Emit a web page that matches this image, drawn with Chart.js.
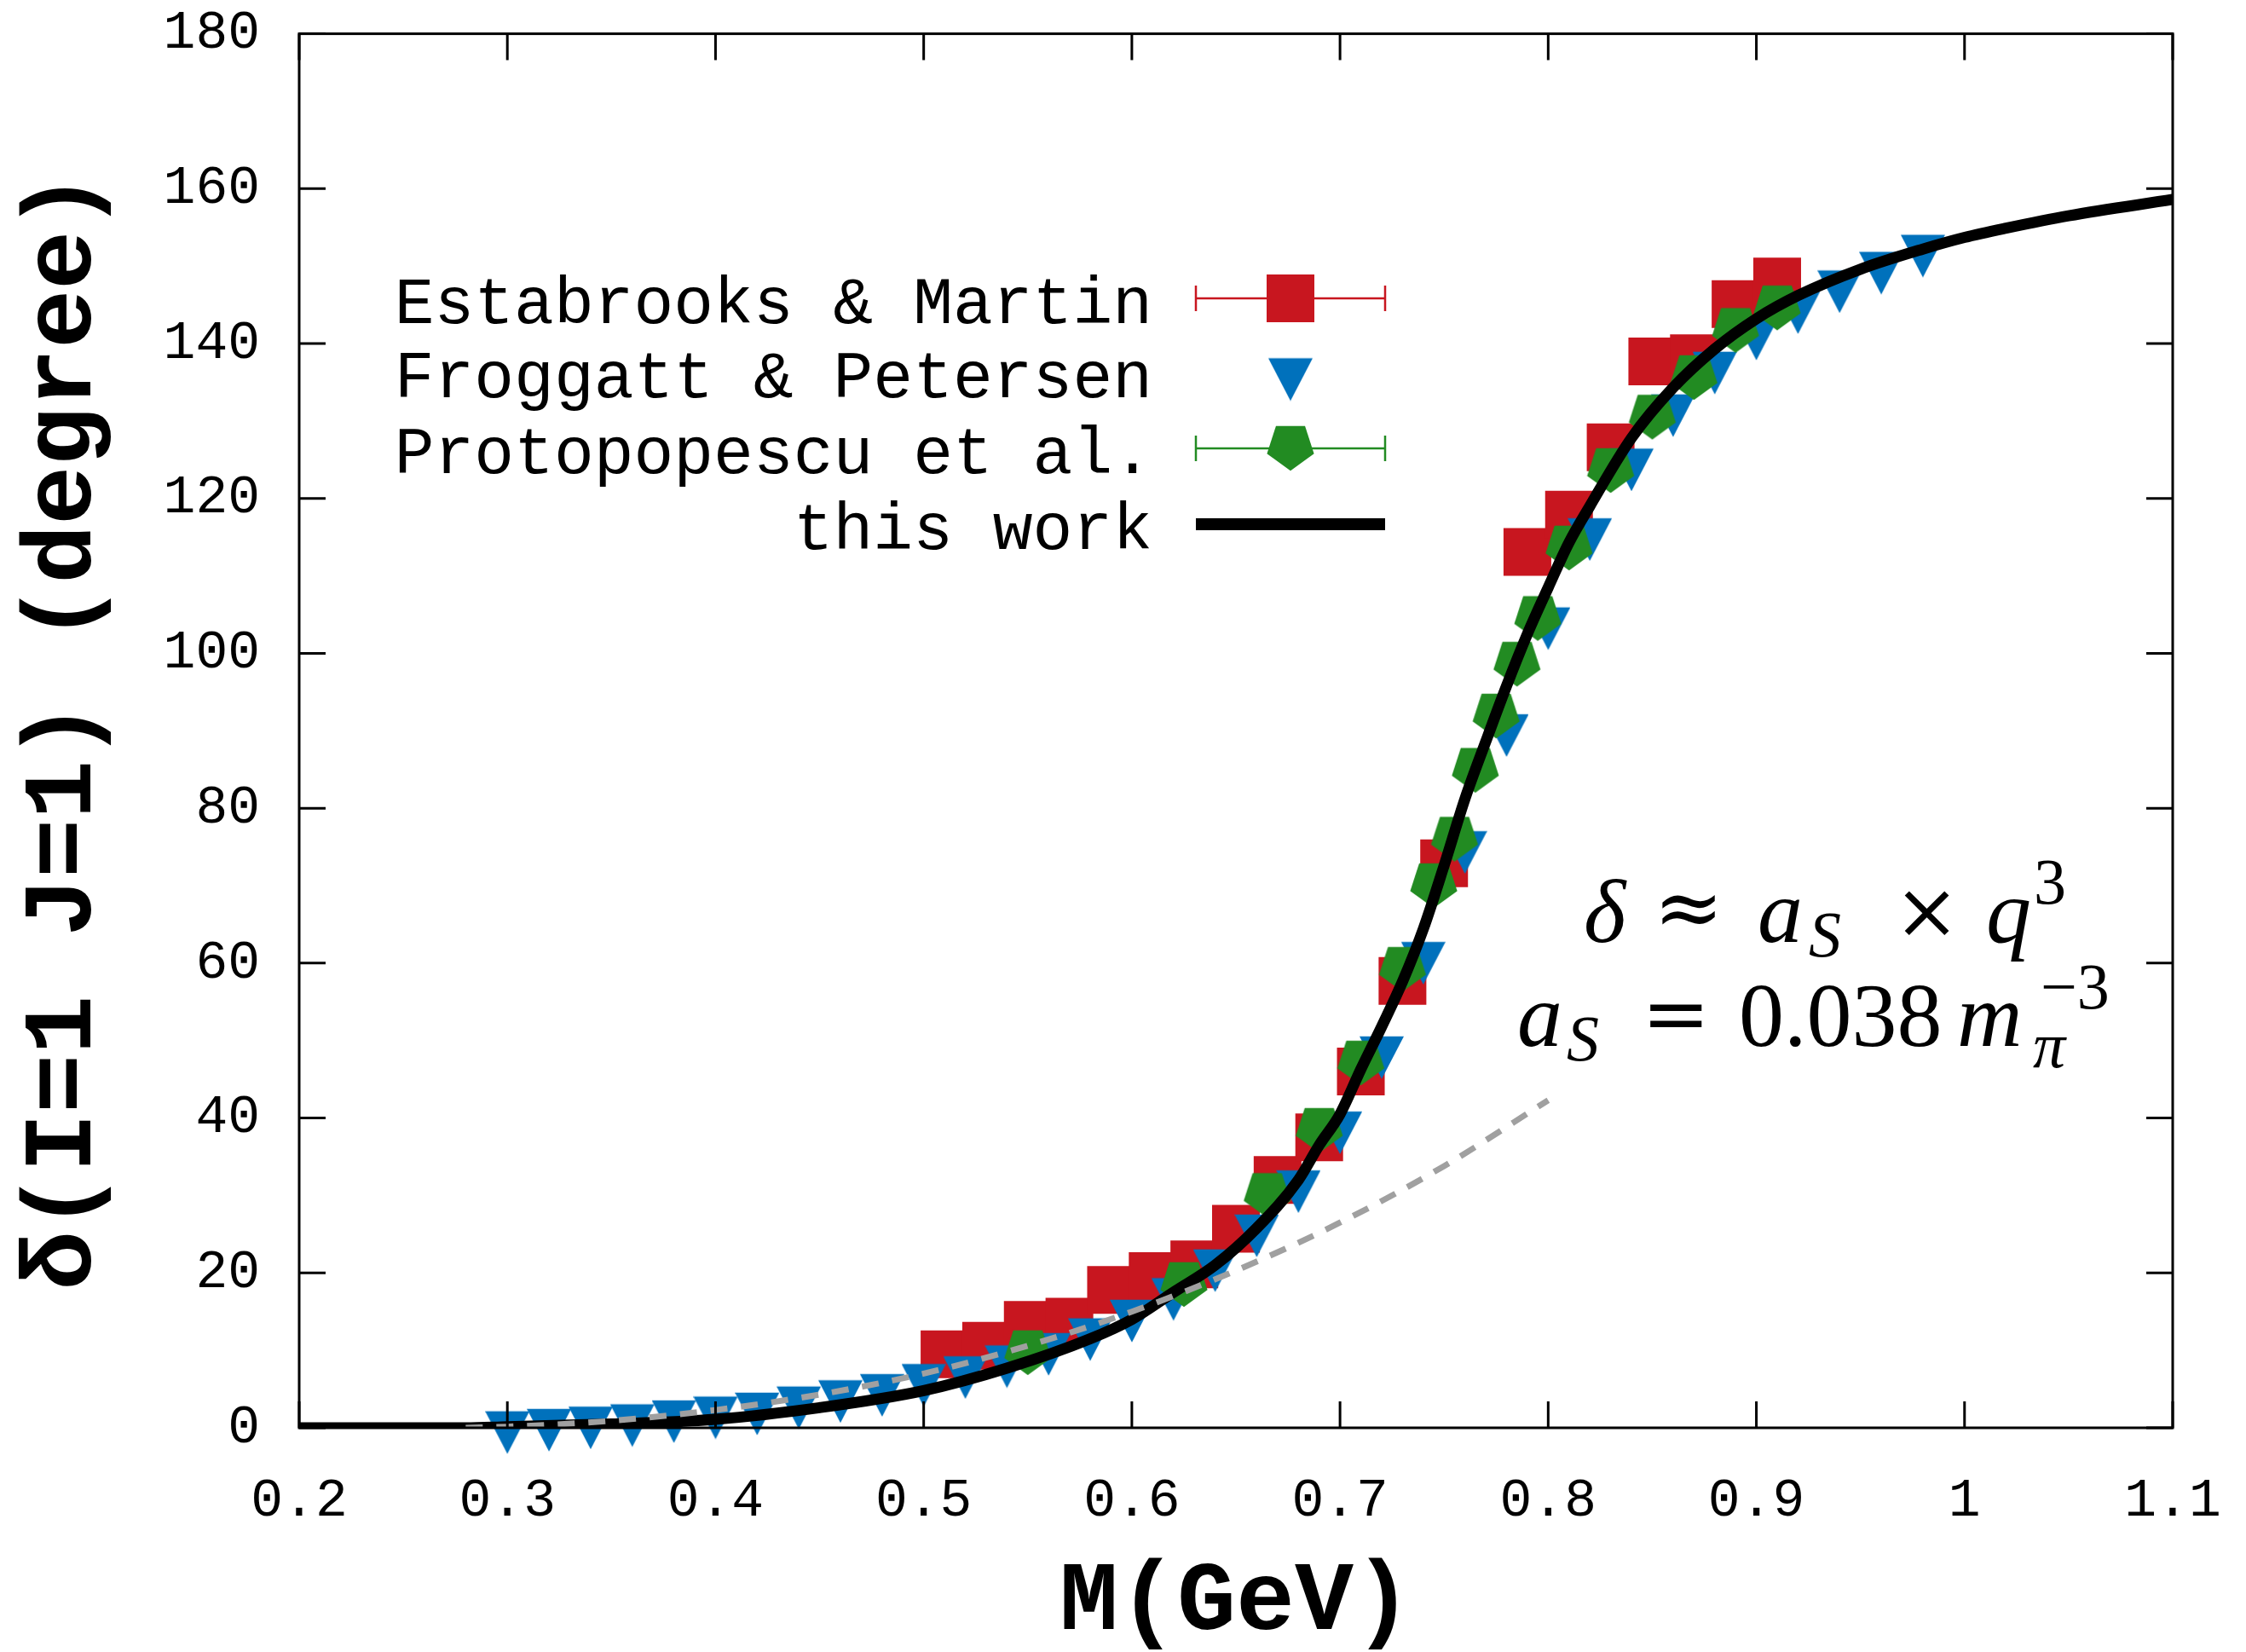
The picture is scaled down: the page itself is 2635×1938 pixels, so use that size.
<!DOCTYPE html>
<html>
<head>
<meta charset="utf-8">
<script src="https://cdn.jsdelivr.net/npm/chart.js@4.4.1/dist/chart.umd.min.js"></script>
<style>
  html, body { margin: 0; padding: 0; background: #fff; }
  #wrap { width: 2635px; height: 1938px; position: relative; }
</style>
</head>
<body>
<div id="wrap"><canvas id="phase"></canvas></div>
<script>
// P-wave pi-pi phase shift

// Estabrooks & Martin
const emMass = [0.51, 0.53, 0.55, 0.57, 0.59, 0.61, 0.63, 0.65, 0.67, 0.69, 0.71, 0.73, 0.75, 0.79, 0.81, 0.83, 0.85, 0.87, 0.89, 0.91];
const emPhase = [9.5, 10.6, 13.3, 13.7, 17.8, 19.6, 21.1, 25.7, 32.0, 37.5, 46.0, 57.7, 72.9, 113.1, 117.9, 126.6, 137.7, 138.1, 145.1, 148.0];

// Froggatt & Petersen
const fpMass = [0.30, 0.32, 0.34, 0.36, 0.38, 0.40, 0.42, 0.44, 0.46, 0.48, 0.50, 0.52, 0.54, 0.56, 0.58, 0.60, 0.62, 0.64, 0.66, 0.68,
                0.70, 0.72, 0.74, 0.76, 0.78, 0.80, 0.82, 0.84, 0.86, 0.88, 0.90, 0.92, 0.94, 0.96, 0.98];
const fpPhase = [0.3, 0.6, 0.9, 1.2, 1.7, 2.2, 2.7, 3.5, 4.3, 5.1, 6.4, 7.4, 8.8, 10.4, 12.3, 14.7, 17.5, 21.2, 25.7, 31.4,
                 39.0, 48.7, 60.9, 75.2, 90.3, 104.1, 115.6, 124.6, 131.6, 137.1, 141.5, 144.9, 147.6, 150.0, 152.2];

// Protopopescu et al.
const ppMass = [0.55, 0.625, 0.665, 0.69, 0.71, 0.73, 0.745, 0.755, 0.765, 0.775, 0.785, 0.795, 0.81, 0.83, 0.85, 0.87, 0.89, 0.91];
const ppPhase = [9.7, 18.5, 30.0, 38.4, 47.1, 59.2, 70.0, 76.0, 84.9, 91.9, 98.6, 104.5, 113.6, 123.6, 130.5, 135.6, 141.7, 144.6];

// this work (solid curve)
const fitMass = [0.2, 0.28, 0.3, 0.35, 0.4, 0.45, 0.5, 0.54, 0.58, 0.6, 0.62, 0.64, 0.66, 0.68, 0.69, 0.7, 0.71, 0.72, 0.73, 0.74,
                 0.75, 0.76, 0.77, 0.78, 0.79, 0.8, 0.81, 0.82, 0.84, 0.86, 0.88, 0.9, 0.92, 0.95, 0.98, 1.0, 1.02, 1.05, 1.1];
const fitPhase = [0, 0, 0.15, 0.5, 1.1, 2.6, 4.8, 7.7, 11.5, 14, 17.5, 21, 25.8, 32, 36.5, 40.5, 46.3, 51.8, 57.6, 64.4,
                  72.6, 81.2, 88.6, 95.8, 102.5, 108.5, 114.3, 119, 127.8, 134.3, 139.3, 143.2, 146.2, 149.6, 152.2, 153.7, 154.9, 156.5, 158.6];

// threshold behaviour (dashed curve)
const lowMass = [0.28, 0.3, 0.35, 0.4, 0.45, 0.5, 0.55, 0.6, 0.65, 0.7, 0.75, 0.8];
const lowPhase = [0, 0.15, 0.9, 2.3, 4.3, 7.0, 10.6, 15.0, 20.3, 26.5, 33.8, 42.3];

// axis ticks
const massTicks = [0.2, 0.3, 0.4, 0.5, 0.6, 0.7, 0.8, 0.9, 1.0, 1.1];
const phaseTicks = [0, 20, 40, 60, 80, 100, 120, 140, 160, 180];

const RED = "#c8161f";
const BLUE = "#0071bc";
const GREEN = "#228b22";
const GREY = "#a0a0a0";

const toPoints = (xs, ys) => xs.map((x, i) => ({ x: x, y: ys[i] }));

// down triangle, centroid at the canvas centre
function makeTriangle(w, h, color) {
  const c = document.createElement("canvas");
  c.width = w;
  c.height = Math.ceil((h * 4) / 3);
  const g = c.getContext("2d");
  const top = c.height / 2 - h / 3;
  g.fillStyle = color;
  g.beginPath();
  g.moveTo(0, top);
  g.lineTo(w, top);
  g.lineTo(w / 2, top + h);
  g.closePath();
  g.fill();
  return c;
}

// pentagon, flat top and point down
function makePentagon(R, color) {
  const c = document.createElement("canvas");
  c.width = Math.ceil(R * 2);
  c.height = Math.ceil(R * 2);
  const g = c.getContext("2d");
  const cx = c.width / 2;
  const cy = c.height / 2 - 0.095 * R;
  g.fillStyle = color;
  g.beginPath();
  for (let k = 0; k < 5; k++) {
    const a = Math.PI / 2 + (k * 2 * Math.PI) / 5;
    const px = cx + R * Math.cos(a);
    const py = cy + R * Math.sin(a);
    if (k === 0) g.moveTo(px, py);
    else g.lineTo(px, py);
  }
  g.closePath();
  g.fill();
  return c;
}

const triMark = makeTriangle(52, 50, BLUE);
const pentMark = makePentagon(29, GREEN);

const whiteBg = {
  id: "whiteBg",
  beforeDraw(chart) {
    const ctx = chart.ctx;
    ctx.save();
    ctx.fillStyle = "#fff";
    ctx.fillRect(0, 0, chart.width, chart.height);
    ctx.restore();
  },
};

// gnuplot-like border with inward ticks on all four sides
const framePlugin = {
  id: "frame",
  afterDatasetsDraw(chart) {
    const { ctx, chartArea: a } = chart;
    const xs = chart.scales.x;
    const ys = chart.scales.y;
    const tick = 31;
    ctx.save();
    ctx.strokeStyle = "#000";
    ctx.lineWidth = 3;
    ctx.beginPath();
    massTicks.forEach((v) => {
      const px = xs.getPixelForValue(v);
      ctx.moveTo(px, a.bottom);
      ctx.lineTo(px, a.bottom - tick);
      ctx.moveTo(px, a.top);
      ctx.lineTo(px, a.top + tick);
    });
    phaseTicks.forEach((v) => {
      const py = ys.getPixelForValue(v);
      ctx.moveTo(a.left, py);
      ctx.lineTo(a.left + tick, py);
      ctx.moveTo(a.right, py);
      ctx.lineTo(a.right - tick, py);
    });
    ctx.stroke();
    ctx.strokeRect(a.left, a.top, a.right - a.left, a.bottom - a.top);
    ctx.restore();
  },
};

// key in the upper left
const keyPlugin = {
  id: "key",
  afterDraw(chart) {
    const ctx = chart.ctx;
    const rows = [
      { label: "Estabrooks & Martin", kind: "square", y: 350 },
      { label: "Froggatt & Petersen", kind: "tri", y: 437 },
      { label: "Protopopescu et al.", kind: "pent", y: 526 },
      { label: "this work", kind: "line", y: 615 },
    ];
    const textRight = 1352;
    const x0 = 1403;
    const x1 = 1625;
    const xm = 1514;
    ctx.save();
    ctx.font = "78px 'Liberation Mono'";
    ctx.textAlign = "right";
    ctx.textBaseline = "alphabetic";
    ctx.fillStyle = "#000";
    rows.forEach((r) => {
      ctx.fillText(r.label, textRight, r.y + 29);
      if (r.kind === "square" || r.kind === "pent") {
        const col = r.kind === "square" ? RED : GREEN;
        ctx.strokeStyle = col;
        ctx.lineWidth = 2.5;
        ctx.beginPath();
        ctx.moveTo(x0, r.y);
        ctx.lineTo(x1, r.y);
        ctx.moveTo(x0, r.y - 15);
        ctx.lineTo(x0, r.y + 15);
        ctx.moveTo(x1, r.y - 15);
        ctx.lineTo(x1, r.y + 15);
        ctx.stroke();
        if (r.kind === "square") {
          ctx.fillStyle = RED;
          ctx.fillRect(xm - 28, r.y - 28, 56, 56);
          ctx.fillStyle = "#000";
        } else {
          ctx.drawImage(pentMark, xm - pentMark.width / 2, r.y - pentMark.height / 2);
        }
      } else if (r.kind === "tri") {
        ctx.drawImage(triMark, xm - triMark.width / 2, r.y - triMark.height / 2);
      } else {
        ctx.strokeStyle = "#000";
        ctx.lineWidth = 14;
        ctx.beginPath();
        ctx.moveTo(x0, r.y);
        ctx.lineTo(x1, r.y);
        ctx.stroke();
      }
    });
    ctx.restore();
  },
};

// formula for the dashed curve
const formulaPlugin = {
  id: "formula",
  afterDraw(chart) {
    const ctx = chart.ctx;
    const big = 106;
    const small = 76;
    const serif = "'Liberation Serif'";
    const symb = "'DejaVu Serif'";
    const pieces = [
      { t: "\u03B4", x: 1858, y: 1105, s: big, it: true, f: serif },
      { t: "\u2248", x: 1940, y: 1098, s: 98, it: false, f: symb },
      { t: "a", x: 2062, y: 1105, s: big, it: true, f: serif },
      { t: "S", x: 2122, y: 1122, s: small, it: true, f: serif },
      { t: "\u00D7", x: 2222, y: 1100, s: 92, it: false, f: symb },
      { t: "q", x: 2330, y: 1105, s: big, it: true, f: serif },
      { t: "3", x: 2386, y: 1060, s: small, it: false, f: serif },
      { t: "a", x: 1780, y: 1227, s: big, it: true, f: serif },
      { t: "S", x: 1838, y: 1244, s: small, it: true, f: serif },
      { t: "=", x: 1926, y: 1222, s: 96, it: false, f: symb },
      { t: "0.038", x: 2040, y: 1227, s: big, it: false, f: serif },
      { t: "m", x: 2296, y: 1227, s: big, it: true, f: serif },
      { t: "\u03C0", x: 2385, y: 1252, s: small, it: true, f: serif },
      { t: "\u22123", x: 2394, y: 1183, s: small, it: false, f: serif },
    ];
    ctx.save();
    ctx.fillStyle = "#000";
    ctx.textAlign = "left";
    ctx.textBaseline = "alphabetic";
    pieces.forEach((p) => {
      ctx.font = (p.it ? "italic " : "") + p.s + "px " + p.f;
      ctx.fillText(p.t, p.x, p.y);
    });
    ctx.restore();
  },
};

const chart = new Chart(document.getElementById("phase").getContext("2d"), {
  type: "scatter",
  data: {
    datasets: [
      {
        label: "Estabrooks & Martin",
        data: toPoints(emMass, emPhase),
        pointStyle: "rect",
        pointRadius: 39.6,
        pointBackgroundColor: RED,
        pointBorderWidth: 0,
        clip: false,
        order: 5,
      },
      {
        label: "Froggatt & Petersen",
        data: toPoints(fpMass, fpPhase),
        pointStyle: triMark,
        pointRadius: 30,
        clip: false,
        order: 4,
      },
      {
        label: "Protopopescu et al.",
        data: toPoints(ppMass, ppPhase),
        pointStyle: pentMark,
        pointRadius: 29,
        clip: false,
        order: 3,
      },
      {
        label: "this work",
        data: toPoints(fitMass, fitPhase),
        showLine: true,
        pointRadius: 0,
        borderColor: "#000",
        borderWidth: 13,
        cubicInterpolationMode: "monotone",
        order: 2,
      },
      {
        label: "low energy",
        data: toPoints(lowMass, lowPhase),
        showLine: true,
        pointRadius: 0,
        borderColor: GREY,
        borderWidth: 7,
        borderDash: [20, 16],
        cubicInterpolationMode: "monotone",
        order: 1,
      },
    ],
  },
  options: {
    responsive: true,
    maintainAspectRatio: false,
    devicePixelRatio: 1,
    animation: false,
    events: [],
    layout: { padding: { top: 30, right: 86, left: 0, bottom: 0 } },
    plugins: {
      legend: { display: false },
      tooltip: { enabled: false },
    },
    scales: {
      x: {
        type: "linear",
        min: 0.2,
        max: 1.1,
        grid: { display: false, drawTicks: false },
        border: { display: false },
        afterBuildTicks: (scale) => {
          scale.ticks = massTicks.map((v) => ({ value: v }));
        },
        afterFit: (scale) => {
          scale.height = 263;
          scale.paddingLeft = 0;
          scale.paddingRight = 0;
        },
        ticks: {
          color: "#000",
          padding: 49,
          maxRotation: 0,
          autoSkip: false,
          font: { family: "'Liberation Mono'", size: 63 },
          callback: (v) => String(+Number(v).toFixed(2)),
        },
        title: {
          display: true,
          text: "M(GeV)",
          color: "#000",
          font: { family: "'Liberation Mono'", size: 115, weight: "bold", lineHeight: 0.97 },
          padding: { top: 0, bottom: 0 },
        },
      },
      y: {
        type: "linear",
        min: 0,
        max: 180,
        grid: { display: false, drawTicks: false },
        border: { display: false },
        afterBuildTicks: (scale) => {
          scale.ticks = phaseTicks.map((v) => ({ value: v }));
        },
        afterFit: (scale) => {
          scale.width = 351;
          scale.paddingTop = 0;
          scale.paddingBottom = 0;
        },
        ticks: {
          color: "#000",
          padding: 46,
          autoSkip: false,
          font: { family: "'Liberation Mono'", size: 63 },
          callback: (v) => String(v),
        },
        title: {
          display: true,
          text: "\u03B4(I=1 J=1) (degree)",
          color: "#000",
          font: { family: "'Liberation Mono'", size: 115, weight: "bold", lineHeight: 1 },
          padding: { top: 20, bottom: 0 },
        },
      },
    },
  },
  plugins: [whiteBg, framePlugin, keyPlugin, formulaPlugin],
});
</script>
</body>
</html>
